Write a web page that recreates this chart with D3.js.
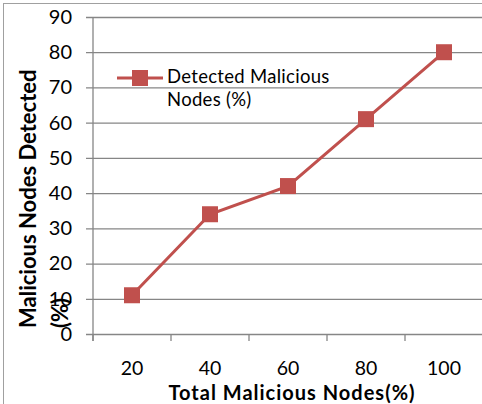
<!DOCTYPE html>
<html><head><meta charset="utf-8">
<script src="https://cdn.jsdelivr.net/npm/d3@7"></script>
<style>
html,body{margin:0;padding:0;background:#fff;}
svg{display:block;}
text{font-family:Lato, "Open Sans", sans-serif;fill:#000;}
</style></head>
<body>
<svg id="c" width="482" height="404"></svg>
<script>
const categories = ["20","40","60","80","100"];
const detected = [11, 34, 42, 61, 80];
const yTicks = [0,10,20,30,40,50,60,70,80,90];
const seriesName = ["Detected Malicious","Nodes (%)"];
const xTitle = "Total Malicious Nodes(%)";
const yTitle = ["Malicious Nodes Detected","(%)"];

(function(){
const svg = d3.select("#c");
const red = "#C0504D", grid = "#868686";
const pL = 93, pR = 483, pT = 17, pB = 334;

// outer border
svg.append("rect").attr("x",3.5).attr("y",3.5).attr("width",600).attr("height",600)
  .attr("fill","none").attr("stroke","#a0a0a0").attr("stroke-width",1);

const x = d3.scaleBand().domain(categories).range([pL,pR]).padding(0);
const y = d3.scaleLinear().domain([0,90]).range([pB,pT]);

// gridlines (with outside tick extension)
svg.append("g").attr("transform",`translate(${pL-7},0)`)
  .call(d3.axisLeft(y).tickValues(yTicks).tickSize(-(pR-pL+7)).tickFormat(""))
  .call(g=>g.select(".domain").remove())
  .call(g=>g.selectAll("line").attr("stroke",grid).attr("stroke-width",1.3));

// y labels
svg.append("g").attr("transform",`translate(${pL-7},0)`)
  .call(d3.axisLeft(y).tickValues(yTicks).tickSize(0).tickPadding(14))
  .call(g=>g.select(".domain").remove())
  .call(g=>g.selectAll("text").attr("font-size",20).attr("font-family","Lato").attr("fill","#000"));

// y axis line
svg.append("line").attr("x1",pL).attr("x2",pL).attr("y1",pT).attr("y2",pB+7)
  .attr("stroke",grid).attr("stroke-width",1.3);

// x axis ticks at band boundaries
const bounds = categories.map(c=>x(c)).concat([x(categories[categories.length-1])+x.bandwidth()]);
svg.selectAll(".xt").data(bounds).enter().append("line")
  .attr("x1",d=>d).attr("x2",d=>d).attr("y1",pB).attr("y2",pB+7)
  .attr("stroke",grid).attr("stroke-width",1.3);

// x labels
svg.selectAll(".xl").data(categories).enter().append("text")
  .attr("x",d=>x(d)+x.bandwidth()/2).attr("y",375).attr("text-anchor","middle")
  .attr("font-size",19.5).attr("fill","#000").text(d=>d);

// line
const line = d3.line().x((d,i)=>x(categories[i])+x.bandwidth()/2).y(d=>y(d));
svg.append("path").datum(detected).attr("d",line).attr("fill","none")
  .attr("stroke",red).attr("stroke-width",3);
const ms = 16;
svg.selectAll(".m").data(detected).enter().append("rect")
  .attr("x",(d,i)=>x(categories[i])+x.bandwidth()/2-ms/2).attr("y",d=>y(d)-ms/2)
  .attr("width",ms).attr("height",ms).attr("fill",red);

// legend
svg.append("line").attr("x1",117).attr("x2",163).attr("y1",78).attr("y2",78)
  .attr("stroke",red).attr("stroke-width",3);
svg.append("rect").attr("x",140-ms/2).attr("y",78-ms/2).attr("width",ms).attr("height",ms).attr("fill",red);
svg.append("text").attr("x",167).attr("y",83).attr("font-size",18.5).attr("letter-spacing",0.3).text(seriesName[0]);
svg.append("text").attr("x",167).attr("y",106).attr("font-size",18.5).attr("letter-spacing",0.3).text(seriesName[1]);

// axis titles
svg.append("text").attr("x",292).attr("y",399.5).attr("text-anchor","middle")
  .attr("font-size",20).attr("font-weight","bold").attr("letter-spacing",1).text(xTitle);
svg.append("text").attr("transform","translate(36,328) rotate(-90)")
  .attr("font-size",22).attr("font-weight","bold").text(yTitle[0]);
svg.append("text").attr("transform","translate(68,328) rotate(-90)")
  .attr("font-size",22).attr("font-weight","bold").text(yTitle[1]);
})();
</script>
</body></html>
